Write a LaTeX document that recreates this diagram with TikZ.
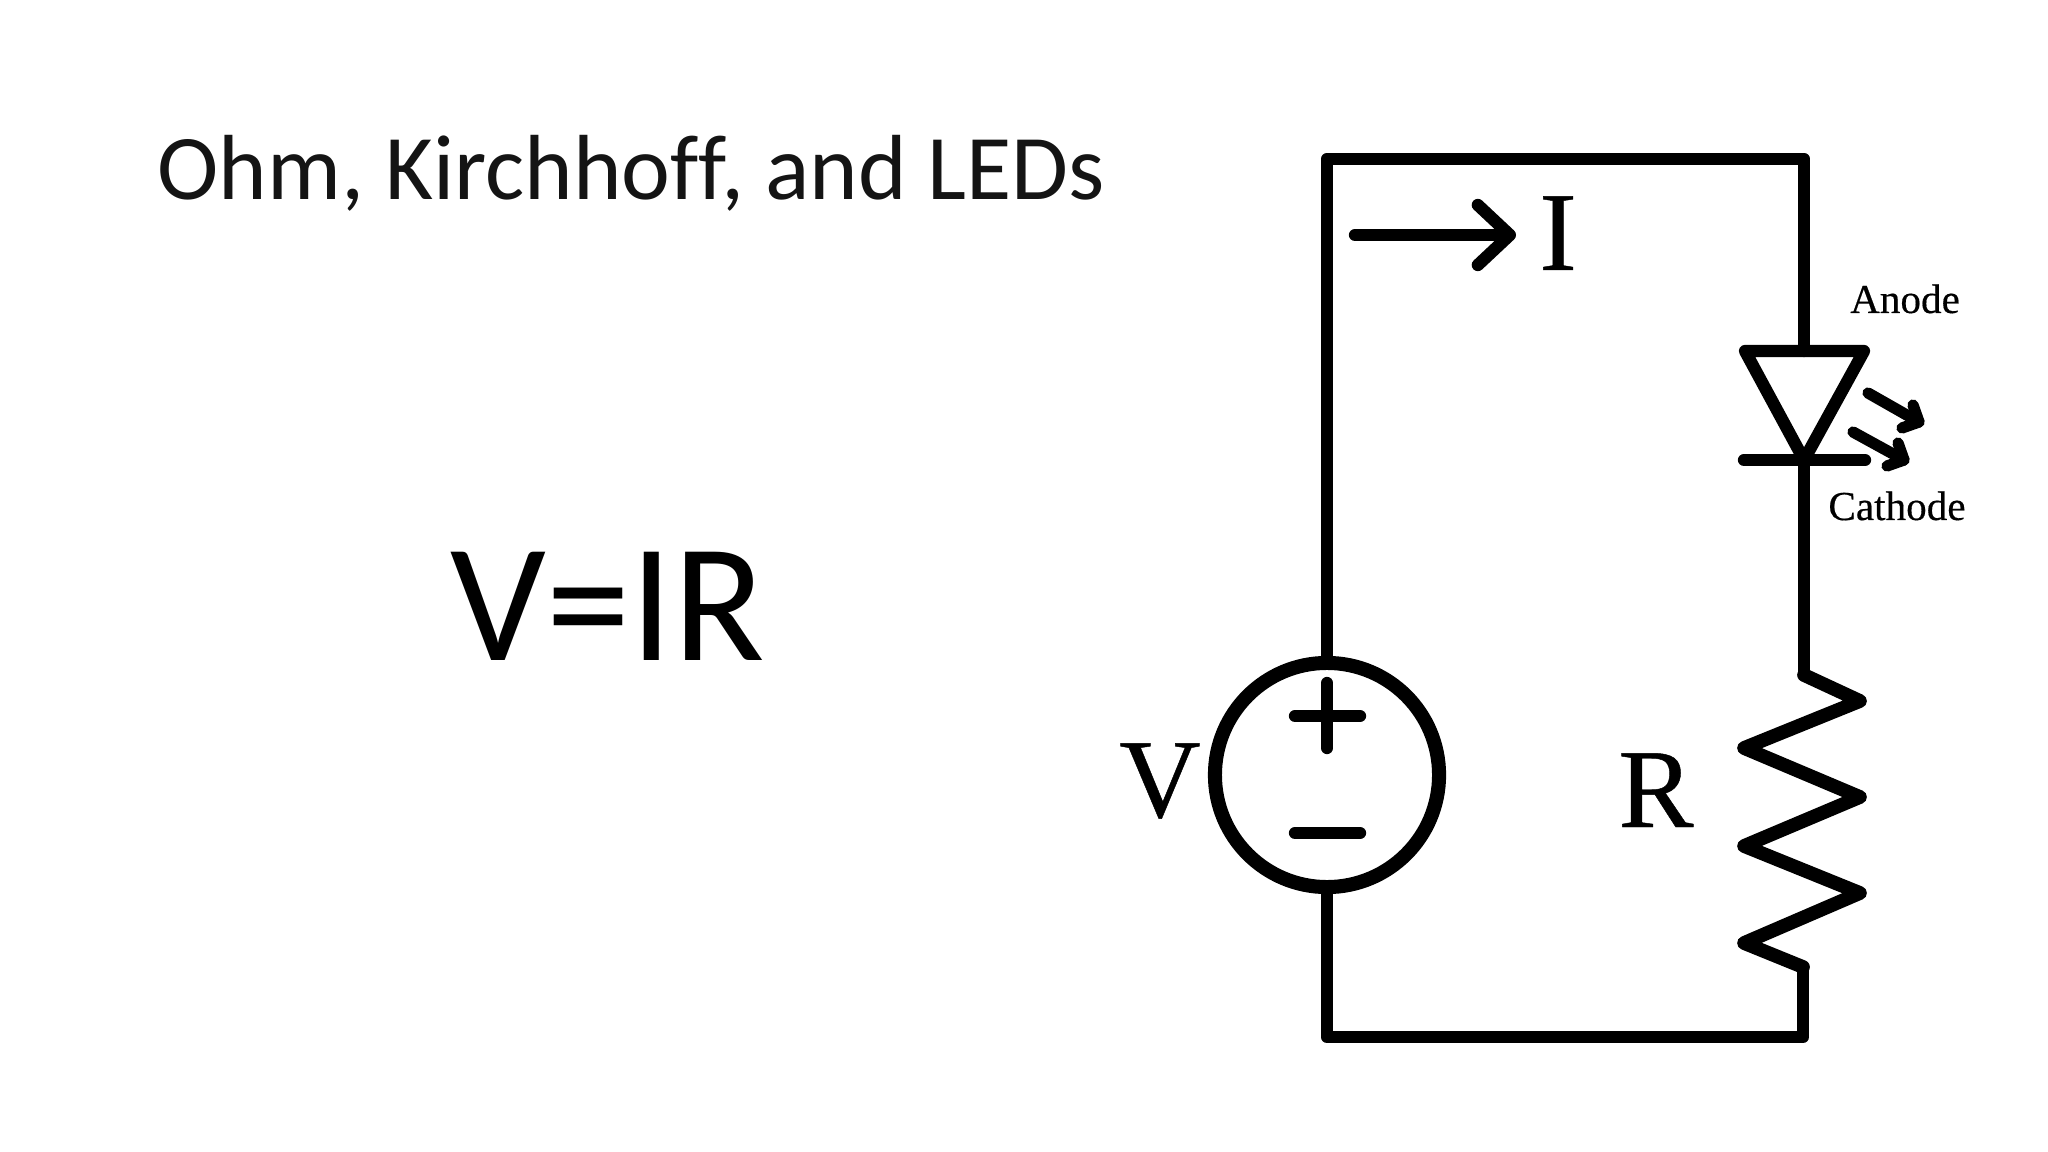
\documentclass[tikz,border=0pt]{standalone}
\usepackage{fontspec}
\setmainfont{Carlito}
\newfontfamily\serifface[FakeBold=0.4]{Liberation Serif}
\usetikzlibrary{arrows.meta}
\tikzset{
	wire/.style = {line width=3.5pt, line cap=round, line join=round},
	zigzag wire/.style = {line width=3.9pt, line cap=round, line join=round},
	thin wire/.style = {line width=3.2pt, line cap=round, line join=round},
	big label/.style = {anchor=base, inner sep=0, font=\serifface\fontsize{32}{36}\selectfont},
	small label/.style = {anchor=base, inner sep=0, font=\serifface\fontsize{11.7}{14}\selectfont},
	current tip/.style = {-{Straight Barb[length=0.32cm,width=0.6cm,round]}}
}
\begin{document}
\begin{tikzpicture}[x=0.01cm,y=-0.01cm]
	\useasboundingbox (0,0) rectangle (2048,1152);
	\node (title) at (157,200) [anchor=base west, inner sep=0, text=black!92, font=\fontsize{26.3}{32}\selectfont] {Ohm, Kirchhof\kern0pt f, and LEDs};
	\node (law) at (450,660) [anchor=base west, inner sep=0, font=\fontsize{48}{58}\selectfont] {V=IR};
	\coordinate (tl) at (1327,159);
	\coordinate (tr) at (1804,159);
	\coordinate (bl) at (1327,1037);
	\coordinate (br) at (1803,1037);
	\node (src) at (1327,775) [circle, draw, line width=4pt, inner sep=0, minimum size=2.24cm] {};
	% diode
	\coordinate (da) at (1804,351);
	\coordinate (dl) at (1745,351);
	\coordinate (dr) at (1864,351);
	\coordinate (dk) at (1804,460);
	\coordinate (kl) at (1744,460);
	\coordinate (kr) at (1865,460);
	\coordinate (l1a) at (1868,393);
	\coordinate (l1b) at (1919,422);
	\coordinate (l1c) at (1913,405);
	\coordinate (l1d) at (1902,428);
	\coordinate (l2a) at (1853,432);
	\coordinate (l2b) at (1904,460);
	\coordinate (l2c) at (1898,443);
	\coordinate (l2d) at (1887,466);
	% resistor
	\coordinate (r0) at (1804,675);
	\coordinate (r1) at (1860,701);
	\coordinate (r2) at (1744,748);
	\coordinate (r3) at (1860,797);
	\coordinate (r4) at (1744,846);
	\coordinate (r5) at (1860,893);
	\coordinate (r6) at (1744,943);
	\coordinate (r7) at (1803,967);
	% source signs
	\coordinate (pt) at (1327,683);
	\coordinate (pb) at (1327,748);
	\coordinate (pl) at (1295,716);
	\coordinate (pr) at (1360,716);
	\coordinate (ml) at (1295,833);
	\coordinate (mr) at (1360,833);
	\coordinate (ia) at (1355,235);
	\coordinate (ib) at (1516,235);
	\draw[wire] (src.north) -- (tl) -- (tr) -- (da);
	\draw[wire] (dl) -- (dr) -- (dk) -- cycle;
	\draw[wire] (kl) -- (kr);
	\draw[wire] (dk) -- (r0);
	\draw[zigzag wire] (r0) -- (r1) -- (r2) -- (r3) -- (r4) -- (r5) -- (r6) -- (r7);
	\draw[wire] (r7) -- (br) -- (bl) -- (src.south);
	\draw[wire] (pt) -- (pb);
	\draw[wire] (pl) -- (pr);
	\draw[wire] (ml) -- (mr);
	\draw[wire,current tip] (ia) -- (ib);
	\draw[thin wire] (l1a) -- (l1b);
	\draw[thin wire] (l1c) -- (l1b) -- (l1d);
	\draw[thin wire] (l2a) -- (l2b);
	\draw[thin wire] (l2c) -- (l2b) -- (l2d);
	\node (i) at (1558,270) [big label] {I};
	\node (v) at (1160,817) [big label] {V};
	\node (r) at (1656,827) [big label] {R};
	\node (anode) at (1905,313) [small label] {Anode};
	\node (cathode) at (1897,520) [small label] {Cathode};
\end{tikzpicture}
\end{document}
